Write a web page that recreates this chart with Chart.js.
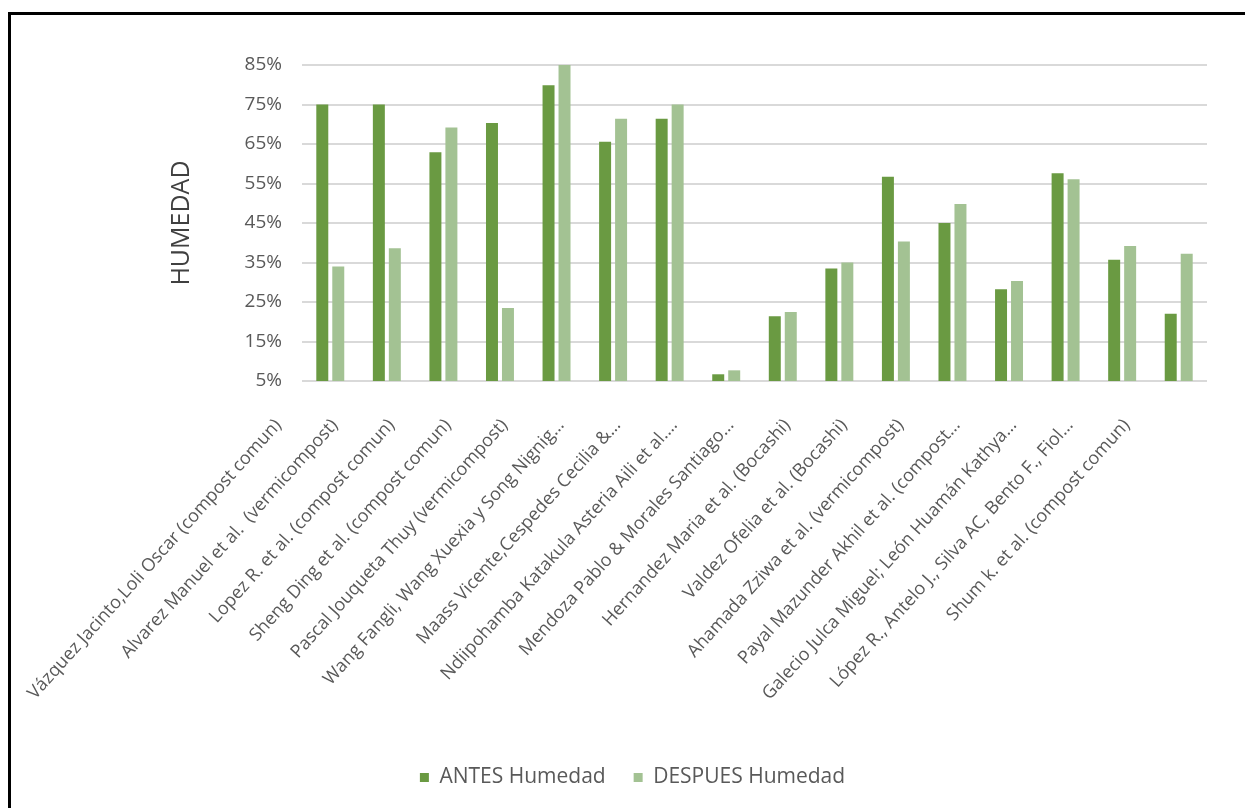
<!DOCTYPE html>
<html>
<head>
<meta charset="utf-8">
<script src="https://cdn.jsdelivr.net/npm/chart.js@4"></script>
<style>
  html, body { margin: 0; padding: 0; background: #fff; }
  #wrap { position: relative; width: 1245px; height: 808px; }
  #frame { position: absolute; left: 8px; top: 12px; width: 1300px; height: 900px;
           border-top: 3px solid #000; border-left: 3px solid #000; pointer-events: none; }
</style>
</head>
<body>
<div id="wrap">
  <canvas id="humedadChart" width="1245" height="808"></canvas>
  <div id="frame"></div>
</div>
<script>
// Chart data
const studies = [
  "Vázquez Jacinto,Loli Oscar (compost comun)",
  "Alvarez Manuel et al.  (vermicompost)",
  "Lopez R. et al. (compost comun)",
  "Sheng Ding et al. (compost comun)",
  "Pascal Jouqueta Thuy (vermicompost)",
  "Wang Fangli, Wang Xuexia y Song Nignig…",
  "Maass Vicente,Cespedes Cecilia &…",
  "Ndiipohamba Katakula Asteria Aili et al.…",
  "Mendoza Pablo & Morales Santiago…",
  "Hernandez Maria et al. (Bocashi)",
  "Valdez Ofelia et al. (Bocashi)",
  "Ahamada Zziwa et al. (vermicompost)",
  "Payal Mazunder Akhil et al. (compost…",
  "Galecio Julca Miguel; León Huamán Kathya…",
  "López R., Antelo J., Silva AC, Bento F., Fiol…",
  "Shum k. et al. (compost comun)"
];
const antesHumedad = [75, 75, 62.9, 70.3, 79.9, 65.6, 71.4, 6.7, 21.4, 33.5, 56.7, 45, 28.2, 57.6, 35.7, 22];
const despuesHumedad = [34, 38.6, 69.2, 23.5, 85, 71.4, 75, 7.7, 22.5, 35, 40.3, 49.8, 30.3, 56.1, 39.2, 37.2];
const yTicks = [5, 15, 25, 35, 45, 55, 65, 75, 85];

const textColor = "#595959";
const fontFamily = "'Open Sans', sans-serif";

const humedadChart = new Chart(document.getElementById("humedadChart"), {
    type: "bar",
    data: {
        labels: studies,
        datasets: [{
            label: "ANTES Humedad",
            data: antesHumedad,
            backgroundColor: "#6a9a42"
        }, {
            label: "DESPUES Humedad",
            data: despuesHumedad,
            backgroundColor: "#a3c293"
        }]
    },
    options: {
        responsive: false,
        animation: false,
        categoryPercentage: 0.565,
        barPercentage: 0.75,
        layout: {
            padding: { left: 58, right: 38, top: 65, bottom: 10 }
        },
        plugins: {
            tooltip: { enabled: false },
            legend: {
                position: "bottom",
                labels: {
                    color: textColor,
                    font: { family: fontFamily, size: 21 },
                    boxWidth: 9,
                    boxHeight: 9,
                    padding: 28
                }
            }
        },
        scales: {
            x: {
                grid: { display: false, drawTicks: false },
                border: { display: false },
                ticks: {
                    color: textColor,
                    font: { family: fontFamily, size: 18 },
                    autoSkip: false,
                    minRotation: 48,
                    maxRotation: 48,
                    padding: 34,
                    labelOffset: -52
                },
                afterFit: function (scale) {
                    scale.height = 358;
                    scale.paddingLeft = 0;
                    scale.paddingRight = 0;
                }
            },
            y: {
                min: 5,
                max: 85,
                border: { display: false },
                grid: { color: "#d9d9d9", lineWidth: 2, drawTicks: false },
                afterBuildTicks: function (scale) {
                    scale.ticks = yTicks.map(v => ({ value: v }));
                },
                ticks: {
                    color: textColor,
                    font: { family: fontFamily, size: 19 },
                    padding: 20,
                    callback: v => v + "%"
                },
                title: {
                    display: true,
                    text: "HUMEDAD",
                    color: "#404040",
                    font: { family: fontFamily, size: 25 },
                    padding: { top: 109, bottom: 0 }
                },
                afterFit: function (scale) {
                    scale.width = 244;
                    scale.paddingTop = 0;
                    scale.paddingBottom = 0;
                }
            }
        }
    }
});
</script>
</body>
</html>
